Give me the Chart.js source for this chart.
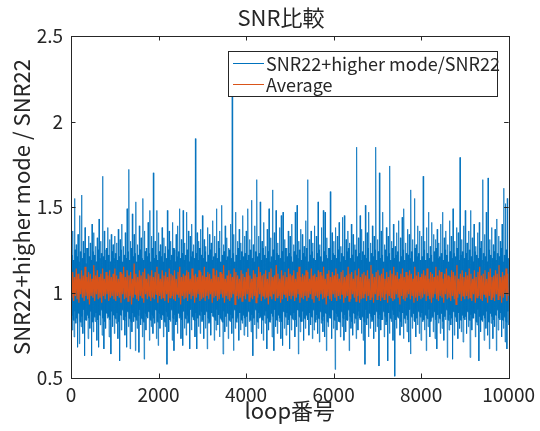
<!DOCTYPE html>
<html>
<head>
<meta charset="utf-8">
<script src="https://cdn.jsdelivr.net/npm/chart.js@4"></script>
<style>
  html, body { margin: 0; padding: 0; background: #fff; }
  #wrap { width: 540px; height: 431px; }
</style>
</head>
<body>
<div id="wrap"><canvas id="chart" width="540" height="431"></canvas></div>
<script>
const chartTitle = 'SNR比較';
const xTitle = 'loop番号';
const yTitle = 'SNR22+higher mode / SNR22';
const seriesLabels = ['SNR22+higher mode/SNR22', 'Average'];
const xTicks = [0, 2000, 4000, 6000, 8000, 10000];
const yTicks = [0.5, 1, 1.5, 2, 2.5];
const loopCount = 10000;

// per-bin extremes (bins of 40 loops)
const ratioHigh = [
  1.31,1.36,1.55,1.28,1.34,1.45,1.57,1.30,1.38,1.26,1.33,1.29,1.40,1.35,1.27,1.32,1.43,1.30,1.68,1.36,1.25,1.38,1.31,1.34,1.28,
  1.33,1.29,1.37,1.31,1.40,1.27,1.35,1.49,1.72,1.30,1.46,1.34,1.53,1.28,1.39,1.32,1.55,1.36,1.26,1.41,1.48,1.33,1.70,1.30,1.48,
  1.35,1.28,1.38,1.32,1.27,1.48,1.36,1.30,1.41,1.25,1.34,1.39,1.49,1.31,1.48,1.29,1.47,1.36,1.33,1.40,1.28,1.90,1.35,1.30,1.37,
  1.45,1.31,1.27,1.38,1.34,1.29,1.42,1.33,1.49,1.30,1.36,1.51,1.28,1.39,1.32,1.26,1.40,2.20,1.34,1.47,1.30,1.37,1.29,1.45,1.33,
  1.36,1.49,1.31,1.54,1.28,1.39,1.66,1.33,1.53,1.30,1.41,1.27,1.37,1.49,1.32,1.60,1.35,1.48,1.29,1.38,1.45,1.47,1.31,1.26,1.36,
  1.33,1.40,1.28,1.47,1.51,1.30,1.37,1.34,1.27,1.42,1.66,1.31,1.36,1.29,1.39,1.33,1.53,1.28,1.38,1.48,1.47,1.32,1.26,1.59,1.35,
  1.30,1.38,1.33,1.41,1.27,1.44,1.45,1.31,1.36,1.29,1.40,1.34,1.28,1.85,1.32,1.45,1.37,1.30,1.51,1.35,1.47,1.29,1.39,1.33,1.85,
  1.31,1.70,1.36,1.47,1.28,1.38,1.33,1.74,1.30,1.40,1.27,1.35,1.42,1.32,1.44,1.49,1.29,1.37,1.34,1.60,1.31,1.55,1.28,1.39,1.36,
  1.33,1.68,1.30,1.38,1.47,1.27,1.41,1.34,1.31,1.37,1.29,1.40,1.47,1.32,1.36,1.28,1.42,1.33,1.49,1.30,1.38,1.35,1.79,1.31,1.39,
  1.48,1.29,1.36,1.48,1.32,1.40,1.27,1.35,1.41,1.30,1.66,1.34,1.47,1.67,1.31,1.38,1.28,1.37,1.43,1.33,1.30,1.40,1.61,1.52,1.55
];
const ratioLow = [
  0.78,0.74,0.82,0.68,0.70,0.80,0.76,0.63,0.84,0.73,0.79,0.63,0.77,0.83,0.72,0.68,0.81,0.75,0.67,0.79,0.85,0.74,0.64,0.80,0.76,
  0.82,0.73,0.60,0.78,0.84,0.75,0.68,0.80,0.67,0.77,0.83,0.66,0.79,0.65,0.81,0.74,0.61,0.78,0.85,0.72,0.80,0.76,0.82,0.73,0.69,
  0.79,0.84,0.74,0.80,0.58,0.77,0.83,0.72,0.66,0.81,0.76,0.85,0.73,0.69,0.79,0.75,0.82,0.67,0.78,0.84,0.74,0.67,0.80,0.76,0.83,
  0.73,0.79,0.67,0.82,0.75,0.86,0.72,0.78,0.81,0.74,0.84,0.64,0.77,0.80,0.73,0.83,0.76,0.66,0.79,0.85,0.72,0.78,0.82,0.75,0.80,
  0.74,0.83,0.77,0.63,0.81,0.73,0.79,0.85,0.76,0.72,0.82,0.67,0.78,0.84,0.74,0.66,0.80,0.76,0.83,0.73,0.69,0.79,0.75,0.81,0.67,
  0.78,0.84,0.74,0.80,0.64,0.77,0.83,0.72,0.79,0.86,0.75,0.81,0.73,0.78,0.84,0.76,0.71,0.82,0.77,0.74,0.66,0.80,0.85,0.73,0.79,
  0.55,0.78,0.83,0.74,0.80,0.72,0.77,0.84,0.66,0.79,0.75,0.82,0.73,0.78,0.85,0.76,0.72,0.58,0.81,0.74,0.79,0.83,0.73,0.77,0.80,
  0.57,0.78,0.84,0.74,0.81,0.60,0.76,0.83,0.72,0.51,0.79,0.85,0.75,0.80,0.73,0.82,0.77,0.71,0.64,0.79,0.84,0.74,0.81,0.76,0.72,
  0.83,0.78,0.66,0.80,0.74,0.85,0.77,0.73,0.67,0.82,0.76,0.79,0.72,0.84,0.62,0.78,0.81,0.61,0.75,0.83,0.73,0.79,0.77,0.71,0.84,
  0.76,0.80,0.62,0.78,0.85,0.74,0.81,0.60,0.77,0.83,0.72,0.79,0.75,0.67,0.82,0.73,0.80,0.66,0.78,0.84,0.74,0.79,0.71,0.67,0.81
];
// edges of the dense dark core, same bins
const coreHigh = [
  1.22,1.19,1.25,1.21,1.18,1.24,1.20,1.23,1.17,1.26,1.21,1.19,1.24,1.22,1.18,1.25,1.20,1.23,1.21,1.19,1.26,1.22,1.18,1.24,1.20,
  1.23,1.19,1.21,1.25,1.18,1.22,1.20,1.24,1.19,1.26,1.21,1.23,1.18,1.22,1.25,1.20,1.19,1.24,1.21,1.23,1.18,1.26,1.20,1.22,1.19,
  1.24,1.21,1.18,1.23,1.20,1.25,1.19,1.22,1.26,1.18,1.21,1.24,1.20,1.23,1.19,1.22,1.25,1.18,1.21,1.24,1.20,1.23,1.19,1.26,1.22,
  1.20,1.24,1.18,1.22,1.25,1.19,1.21,1.23,1.20,1.26,1.18,1.22,1.24,1.19,1.21,1.25,1.20,1.23,1.18,1.22,1.26,1.19,1.24,1.21,1.23,
  1.19,1.22,1.25,1.20,1.18,1.24,1.21,1.23,1.19,1.26,1.22,1.20,1.24,1.18,1.21,1.25,1.19,1.23,1.22,1.20,1.24,1.18,1.26,1.21,1.23,
  1.21,1.18,1.24,1.22,1.20,1.25,1.19,1.23,1.21,1.26,1.18,1.22,1.24,1.20,1.19,1.23,1.25,1.21,1.18,1.24,1.22,1.20,1.26,1.19,1.23,
  1.22,1.20,1.25,1.18,1.23,1.21,1.19,1.24,1.26,1.20,1.22,1.18,1.25,1.21,1.23,1.19,1.24,1.22,1.20,1.26,1.18,1.23,1.21,1.25,1.19,
  1.24,1.20,1.22,1.18,1.25,1.21,1.23,1.19,1.26,1.20,1.22,1.24,1.18,1.21,1.25,1.19,1.23,1.22,1.20,1.24,1.18,1.26,1.21,1.23,1.19,
  1.21,1.25,1.19,1.23,1.20,1.22,1.18,1.24,1.26,1.20,1.21,1.23,1.19,1.25,1.22,1.18,1.24,1.20,1.23,1.21,1.26,1.19,1.22,1.24,1.20,
  1.23,1.19,1.25,1.21,1.18,1.24,1.22,1.20,1.26,1.19,1.23,1.21,1.18,1.25,1.22,1.20,1.24,1.19,1.23,1.21,1.26,1.18,1.22,1.25,1.20
];
const coreLow = [
  0.87,0.84,0.89,0.85,0.88,0.83,0.86,0.90,0.84,0.87,0.85,0.89,0.83,0.86,0.88,0.84,0.87,0.90,0.85,0.83,0.88,0.86,0.84,0.89,0.87,
  0.85,0.88,0.83,0.87,0.90,0.84,0.86,0.89,0.85,0.83,0.88,0.86,0.84,0.87,0.90,0.85,0.83,0.88,0.86,0.89,0.84,0.87,0.85,0.90,0.83,
  0.88,0.85,0.87,0.83,0.89,0.86,0.84,0.90,0.85,0.87,0.83,0.88,0.86,0.84,0.89,0.85,0.87,0.83,0.90,0.86,0.84,0.88,0.85,0.87,0.89,
  0.84,0.87,0.89,0.85,0.83,0.88,0.86,0.84,0.90,0.87,0.85,0.83,0.89,0.86,0.88,0.84,0.87,0.85,0.90,0.83,0.86,0.88,0.84,0.87,0.85,
  0.86,0.89,0.84,0.87,0.85,0.90,0.83,0.88,0.86,0.84,0.87,0.89,0.85,0.83,0.88,0.86,0.90,0.84,0.87,0.85,0.83,0.89,0.86,0.88,0.84,
  0.87,0.85,0.88,0.84,0.90,0.86,0.83,0.89,0.85,0.87,0.84,0.88,0.86,0.90,0.83,0.87,0.85,0.89,0.84,0.86,0.88,0.83,0.87,0.85,0.90,
  0.84,0.88,0.86,0.83,0.89,0.85,0.87,0.84,0.90,0.86,0.83,0.88,0.85,0.87,0.89,0.84,0.86,0.83,0.90,0.85,0.88,0.86,0.84,0.87,0.89,
  0.85,0.87,0.84,0.89,0.86,0.83,0.88,0.85,0.90,0.87,0.84,0.86,0.89,0.83,0.88,0.85,0.87,0.84,0.90,0.86,0.88,0.83,0.85,0.89,0.86,
  0.88,0.84,0.87,0.85,0.90,0.83,0.86,0.89,0.84,0.87,0.85,0.88,0.83,0.86,0.90,0.84,0.87,0.85,0.89,0.86,0.83,0.88,0.84,0.87,0.85,
  0.86,0.89,0.84,0.87,0.85,0.88,0.83,0.90,0.86,0.84,0.87,0.85,0.89,0.83,0.88,0.86,0.84,0.87,0.90,0.85,0.88,0.84,0.86,0.83,0.89
];
const avgHigh = [
  1.10,1.12,1.09,1.14,1.11,1.08,1.13,1.10,1.15,1.09,1.12,1.11,1.08,1.16,1.10,1.13,1.09,1.11,1.14,1.08,1.12,1.10,1.13,1.09,1.11,
  1.14,1.10,1.08,1.12,1.11,1.15,1.09,1.13,1.10,1.12,1.08,1.17,1.11,1.09,1.13,1.10,1.12,1.14,1.08,1.11,1.10,1.13,1.09,1.12,1.15,
  1.11,1.08,1.13,1.10,1.12,1.09,1.14,1.11,1.10,1.13,1.08,1.12,1.15,1.09,1.11,1.10,1.13,1.12,1.08,1.14,1.10,1.11,1.09,1.13,1.12,
  1.10,1.15,1.09,1.12,1.11,1.08,1.14,1.10,1.13,1.09,1.12,1.11,1.16,1.08,1.10,1.13,1.11,1.09,1.14,1.12,1.10,1.08,1.13,1.11,1.09,
  1.12,1.14,1.10,1.08,1.13,1.11,1.09,1.15,1.12,1.10,1.11,1.13,1.08,1.12,1.14,1.09,1.10,1.16,1.11,1.08,1.13,1.10,1.12,1.09,1.14,
  1.11,1.10,1.13,1.08,1.12,1.15,1.09,1.11,1.10,1.13,1.12,1.08,1.14,1.10,1.11,1.09,1.13,1.12,1.10,1.15,1.08,1.11,1.13,1.09,1.12,
  1.10,1.14,1.11,1.08,1.12,1.13,1.09,1.10,1.15,1.11,1.12,1.08,1.13,1.10,1.14,1.09,1.11,1.12,1.10,1.13,1.08,1.16,1.11,1.09,1.12,
  1.13,1.10,1.11,1.14,1.08,1.12,1.09,1.13,1.11,1.15,1.10,1.12,1.08,1.11,1.14,1.09,1.12,1.10,1.13,1.11,1.08,1.15,1.10,1.12,1.09,
  1.11,1.13,1.10,1.14,1.08,1.12,1.11,1.09,1.15,1.10,1.13,1.12,1.08,1.11,1.14,1.10,1.09,1.13,1.12,1.10,1.16,1.08,1.11,1.13,1.09,
  1.12,1.10,1.14,1.11,1.08,1.13,1.09,1.12,1.15,1.10,1.11,1.13,1.08,1.12,1.14,1.09,1.10,1.13,1.11,1.16,1.09,1.12,1.10,1.14,1.11
];
const avgLow = [
  0.97,0.95,0.98,0.96,0.94,0.99,0.97,0.95,0.98,0.96,0.93,0.98,0.97,0.95,0.99,0.96,0.97,0.94,0.98,0.96,0.99,0.95,0.97,0.98,0.96,
  0.95,0.98,0.97,0.94,0.99,0.96,0.97,0.95,0.98,0.93,0.97,0.99,0.96,0.95,0.98,0.97,0.94,0.99,0.96,0.98,0.95,0.97,0.96,0.99,0.94,
  0.98,0.96,0.97,0.95,0.99,0.94,0.97,0.98,0.96,0.95,0.99,0.97,0.93,0.98,0.96,0.97,0.95,0.99,0.96,0.98,0.94,0.97,0.99,0.95,0.96,
  0.97,0.95,0.98,0.96,0.99,0.94,0.97,0.98,0.95,0.96,0.99,0.97,0.94,0.98,0.96,0.95,0.97,0.99,0.93,0.98,0.96,0.97,0.95,0.98,0.96,
  0.99,0.95,0.97,0.96,0.98,0.94,0.97,0.99,0.95,0.98,0.96,0.97,0.93,0.98,0.96,0.99,0.95,0.97,0.98,0.94,0.96,0.99,0.97,0.95,0.98,
  0.96,0.98,0.95,0.97,0.99,0.94,0.97,0.96,0.98,0.95,0.97,0.99,0.96,0.94,0.98,0.97,0.95,0.99,0.96,0.97,0.93,0.98,0.96,0.95,0.99,
  0.97,0.95,0.98,0.96,0.99,0.94,0.97,0.98,0.95,0.96,0.99,0.97,0.95,0.98,0.94,0.96,0.97,0.99,0.95,0.98,0.96,0.97,0.94,0.99,0.96,
  0.98,0.95,0.97,0.96,0.99,0.94,0.98,0.97,0.95,0.96,0.99,0.97,0.93,0.98,0.96,0.95,0.97,0.99,0.96,0.98,0.94,0.97,0.95,0.98,0.96,
  0.97,0.99,0.95,0.98,0.96,0.94,0.97,0.99,0.96,0.95,0.98,0.97,0.94,0.99,0.96,0.97,0.95,0.98,0.96,0.93,0.97,0.99,0.95,0.98,0.96,
  0.98,0.96,0.97,0.95,0.99,0.94,0.97,0.98,0.96,0.95,0.99,0.97,0.94,0.98,0.96,0.97,0.95,0.99,0.96,0.98,0.94,0.97,0.99,0.95,0.98
];

const colors = ['#0072BD', '#D95319'];
const thinBlue = 'rgba(0, 114, 189, 0.75)';
const axisColor = '#262626';
const fontFamily = '"Noto Sans CJK JP", "Noto Sans", sans-serif';

// walk each bin through its values in turn, spread over the loop range
const toPoints = (...cols) => {
    const n = cols[0].length * cols.length;
    const step = loopCount / (n - 1);
    const pts = [];
    cols[0].forEach((_, i) => {
        cols.forEach((c, j) => {
            pts.push({ x: (i * cols.length + j) * step, y: c[i] });
        });
    });
    return pts;
};

// the coreLow -> coreHigh stroke of each bin is the dense part
const isCore = (seg) => seg.p0DataIndex % 4 === 1;

const plainTick = (v) => String(v);

// box, inward ticks, title and legend, drawn the matlab way
const matlabAxes = {
    id: 'matlabAxes',
    afterDraw(chart) {
        const { ctx, chartArea: a, scales } = chart;
        const tl = 4.5;
        ctx.save();
        ctx.strokeStyle = axisColor;
        ctx.lineWidth = 1;
        ctx.beginPath();
        xTicks.forEach((v) => {
            const px = Math.round(scales.x.getPixelForValue(v)) + 0.5;
            ctx.moveTo(px, a.bottom); ctx.lineTo(px, a.bottom - tl);
            ctx.moveTo(px, a.top); ctx.lineTo(px, a.top + tl);
        });
        yTicks.forEach((v) => {
            const py = Math.round(scales.y.getPixelForValue(v)) + 0.5;
            ctx.moveTo(a.left, py); ctx.lineTo(a.left + tl, py);
            ctx.moveTo(a.right, py); ctx.lineTo(a.right - tl, py);
        });
        ctx.stroke();
        ctx.strokeRect(Math.round(a.left) + 0.5, Math.round(a.top) + 0.5,
            Math.round(a.right - a.left), Math.round(a.bottom - a.top));

        ctx.fillStyle = axisColor;
        ctx.font = '22px ' + fontFamily;
        ctx.textAlign = 'center';
        ctx.textBaseline = 'middle';
        ctx.fillText(chartTitle, 281, 18);

        // legend box
        const lx = 228, ly = 51, lw = 269, lh = 45;
        ctx.fillStyle = '#fff';
        ctx.fillRect(lx, ly, lw, lh);
        ctx.strokeStyle = axisColor;
        ctx.strokeRect(lx + 0.5, ly + 0.5, lw, lh);
        ctx.font = '18px ' + fontFamily;
        ctx.textAlign = 'left';
        chart.data.datasets.forEach((ds, i) => {
            const y = 63 + i * 21;
            ctx.strokeStyle = colors[i];
            ctx.beginPath();
            ctx.moveTo(233, y + 0.5);
            ctx.lineTo(264, y + 0.5);
            ctx.stroke();
            ctx.fillStyle = axisColor;
            ctx.fillText(ds.label, 266, y + 1);
        });
        ctx.restore();
    },
};

const ctx = document.getElementById('chart').getContext('2d');
const myChart = new Chart(ctx, {
    type: 'line',
    data: {
        datasets: [
            {
                label: seriesLabels[0],
                data: toPoints(ratioHigh, coreLow, coreHigh, ratioLow),
                borderColor: colors[0],
                borderWidth: 1,
                pointRadius: 0,
                tension: 0,
                order: 2,
                segment: {
                    borderColor: (seg) => (isCore(seg) ? colors[0] : thinBlue),
                    borderWidth: (seg) => (isCore(seg) ? 2 : 1),
                },
            },
            {
                label: seriesLabels[1],
                data: toPoints(avgHigh, avgLow),
                borderColor: colors[1],
                borderWidth: 1.2,
                pointRadius: 0,
                tension: 0,
                order: 1,
            },
        ],
    },
    options: {
        responsive: false,
        animation: false,
        parsing: false,
        normalized: true,
        layout: { padding: { top: 36, right: 29, left: 0, bottom: 0 } },
        plugins: {
            legend: { display: false },
            tooltip: { enabled: false },
        },
        scales: {
            x: {
                type: 'linear',
                min: 0,
                max: loopCount,
                afterFit: (scale) => { scale.height = 53; },
                afterBuildTicks: (scale) => { scale.ticks = xTicks.map((v) => ({ value: v })); },
                grid: { display: false, drawTicks: false },
                border: { display: false },
                ticks: { color: axisColor, font: { size: 19, family: fontFamily }, padding: 5, maxRotation: 0, callback: plainTick },
                title: { display: true, text: xTitle, color: axisColor, font: { size: 22, family: fontFamily }, padding: { top: 0, bottom: 7 } },
            },
            y: {
                min: 0.5,
                max: 2.5,
                afterFit: (scale) => { scale.width = 71; },
                afterBuildTicks: (scale) => { scale.ticks = yTicks.map((v) => ({ value: v })); },
                grid: { display: false, drawTicks: false },
                border: { display: false },
                ticks: { color: axisColor, font: { size: 19, family: fontFamily }, padding: 8, callback: plainTick },
                title: { display: true, text: yTitle, color: axisColor, font: { size: 22, family: fontFamily }, padding: { top: 8, bottom: 0 } },
            },
        },
    },
    plugins: [matlabAxes],
});
</script>
</body>
</html>
